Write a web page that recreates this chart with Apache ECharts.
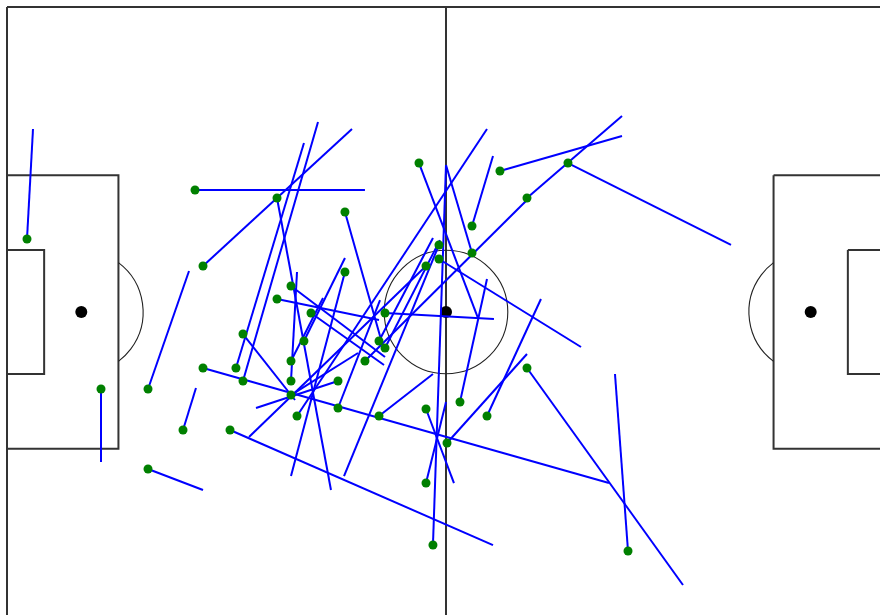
<!DOCTYPE html>
<html><head><meta charset="utf-8">
<script src="https://cdn.jsdelivr.net/npm/echarts@6/dist/echarts.min.js"></script>
<style>html,body{margin:0;padding:0;background:#fff}#c{width:880px;height:615px}</style>
</head><body><div id="c"></div>
<script>
// Pass data in pitch metres (pitch 130 x 90, origin top-left, y downwards)
const startX = [2.96,27.84,29.02,39.98,33.9,34.94,50.04,61.0,72.99,83.06,76.99,68.85,68.85,63.07,63.96,63.96,62.04,50.04,42.05,39.98,45.01,55.97,34.94,43.97,55.08,55.97,53.0,42.05,29.02,49.01,42.05,20.88,13.92,42.05,49.01,42.94,55.08,62.04,67.07,71.07,76.99,65.15,26.06,33.02,20.88,62.04,91.95];
const startY = [34.23,27.0,38.21,28.18,53.26,55.18,30.25,23.02,24.2,23.02,28.18,32.31,36.3,79.38,35.11,37.18,38.21,39.1,41.16,43.08,45.15,45.15,48.25,49.28,49.28,50.31,52.23,52.23,53.26,55.18,55.18,56.36,56.36,57.25,59.16,60.34,60.34,59.31,58.28,60.34,53.26,64.33,62.41,62.41,68.16,70.23,80.26];
const endX = [3.85,53.0,51.08,47.97,43.97,46.05,55.82,69.74,91.06,107.2,91.06,71.96,65.0,65.0,49.9,84.99,35.83,42.05,55.97,55.08,55.82,72.1,42.64,50.04,63.07,64.1,76.99,46.79,89.13,36.87,42.94,26.95,13.92,51.97,55.23,71.07,63.07,66.18,71.07,79.06,100.09,76.99,27.98,71.96,29.02,65.0,90.02];
const endY = [18.0,27.0,18.0,71.26,20.07,16.97,50.61,45.89,19.03,35.11,16.08,21.98,23.31,23.31,69.2,50.16,63.44,69.2,51.64,46.18,52.82,46.03,57.98,37.03,34.08,34.4,28.48,42.93,70.23,59.16,39.1,38.95,67.13,51.05,43.23,18.0,54.15,70.23,40.13,43.08,85.28,51.2,56.21,79.38,71.26,58.28,54.15];

// Pitch geometry (metres)
const PITCH = {length:130, width:90, boxDepth:16.5, boxWidth:40.32, sixDepth:5.5, sixWidth:18.32, spot:11, circleR:9.15};
// visible part of the pitch (the drawing is cut at the right and bottom edges)
const VIEW_X_MAX = 129.26, VIEW_Y_MAX = 89.70;

const chart = echarts.init(document.getElementById('c'), null, {renderer:'canvas'});

function pitchRender(params, api){
  const P = PITCH, L = P.length, W = P.width, cy = W/2;
  const c = (x,y) => api.coord([x,y]);
  const sx = api.size([1,0])[0];
  const lineStyle = {stroke:'#333', lineWidth:2, fill:null};
  const thin = {stroke:'#222', lineWidth:1.1, fill:null};
  const kids = [];
  function rect(x0,y0,x1,y1){
    const a=c(x0,y0), b=c(x1,y1);
    kids.push({type:'polyline', shape:{points:[[a[0],a[1]],[b[0],a[1]],[b[0],b[1]],[a[0],b[1]],[a[0],a[1]]]}, style:lineStyle});
  }
  rect(0,0,L,W);
  const m0=c(L/2,0), m1=c(L/2,W);
  kids.push({type:'line', shape:{x1:m0[0],y1:m0[1],x2:m1[0],y2:m1[1]}, style:lineStyle});
  rect(0,cy-P.boxWidth/2,P.boxDepth,cy+P.boxWidth/2);
  rect(L-P.boxDepth,cy-P.boxWidth/2,L,cy+P.boxWidth/2);
  rect(0,cy-P.sixWidth/2,P.sixDepth,cy+P.sixWidth/2);
  rect(L-P.sixDepth,cy-P.sixWidth/2,L,cy+P.sixWidth/2);
  const cc=c(L/2,cy);
  kids.push({type:'circle', shape:{cx:cc[0],cy:cc[1],r:P.circleR*sx}, style:thin});
  const ang = Math.acos((P.boxDepth-P.spot)/P.circleR);
  const ls=c(P.spot,cy), rs=c(L-P.spot,cy);
  kids.push({type:'arc', shape:{cx:ls[0],cy:ls[1],r:P.circleR*sx,startAngle:-ang,endAngle:ang,clockwise:true}, style:thin});
  kids.push({type:'arc', shape:{cx:rs[0],cy:rs[1],r:P.circleR*sx,startAngle:Math.PI-ang,endAngle:Math.PI+ang,clockwise:true}, style:thin});
  [cc,ls,rs].forEach(p=>kids.push({type:'circle', shape:{cx:p[0],cy:p[1],r:6}, style:{fill:'#000'}}));
  return {type:'group', children:kids};
}

const passes = startX.map((x,i)=>({coords:[[x,startY[i]],[endX[i],endY[i]]]}));
const starts = startX.map((x,i)=>[x,startY[i]]);

chart.setOption({
  animation:false,
  backgroundColor:'#fff',
  grid:{left:7, top:7, right:0, bottom:0, containLabel:false},
  xAxis:{type:'value', min:0, max:VIEW_X_MAX, show:false},
  yAxis:{type:'value', min:0, max:VIEW_Y_MAX, inverse:true, show:false},
  series:[
    {type:'custom', renderItem:pitchRender, data:[[0,0]], z:1, silent:true, clip:false},
    {type:'lines', coordinateSystem:'cartesian2d', data:passes, z:2, silent:true,
     lineStyle:{color:'#0000ff', width:2, opacity:1}},
    {type:'scatter', data:starts, symbolSize:9, z:3, silent:true,
     itemStyle:{color:'#008000', opacity:1}}
  ]
});
</script></body></html>
